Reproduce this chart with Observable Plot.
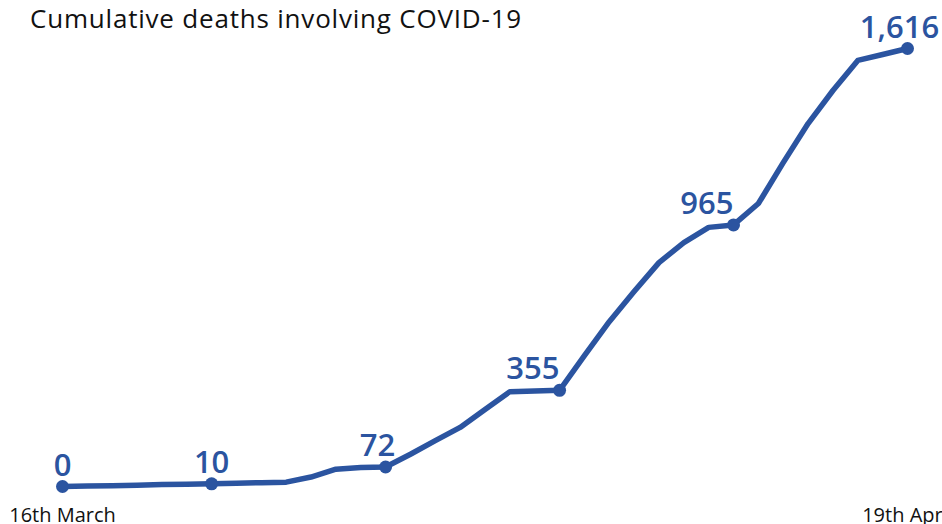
<!DOCTYPE html>
<html>
<head>
<meta charset="utf-8">
<script src="https://cdn.jsdelivr.net/npm/d3@7"></script>
<script src="https://cdn.jsdelivr.net/npm/@observablehq/plot@0.6"></script>
<style>
  html, body { margin: 0; padding: 0; background: #fff; }
  #wrap { position: relative; width: 942px; height: 524px; overflow: hidden; }
  #title { position: absolute; left: 30px; top: 0px; font-family: "Open Sans", sans-serif; font-size: 26px; letter-spacing: 0.8px; color: #111; white-space: nowrap; }
  svg { overflow: visible; }
</style>
</head>
<body>
<div id="wrap">
  <div id="chart"></div>
  <div id="title">Cumulative deaths involving COVID-19</div>
</div>
<script>
const startDate = "2020-03-16";
const deaths = [0, 2, 3, 5, 7, 8, 10, 12, 14, 16, 35, 64, 70, 72, 119, 169, 218, 284, 350, 352, 355,
  483, 608, 719, 826, 900, 956, 965, 1044, 1195, 1339, 1461, 1572, 1594, 1616];
const labelledDays = [0, 6, 13, 20, 27, 34];
const tickDays = [0, 34];
const tickLabels = ["16th March", "19th April"];

const start = new Date(startDate + "T00:00:00Z");
const data = deaths.map((v, i) => ({date: d3.utcDay.offset(start, i), value: v, i}));
const marked = data.filter(d => labelledDays.includes(d.i));
const tickDates = tickDays.map(i => data[i].date);
const blue = "#2b54a0";

const labelFont = {fontFamily: "Open Sans", fontSize: 31, fontWeight: 600, fill: blue, lineAnchor: "bottom", dy: -11};

const chart = Plot.plot({
  width: 942,
  height: 524,
  marginLeft: 62,
  marginRight: 35,
  marginTop: 48,
  marginBottom: 38,
  style: {fontFamily: "Open Sans", background: "#fff", overflow: "visible"},
  x: {type: "utc", domain: [data[0].date, data[data.length - 1].date]},
  y: {domain: [0, 1616], axis: null},
  marks: [
    Plot.axisX({ticks: tickDates, tickFormat: d => tickLabels[tickDates.findIndex(t => +t === +d)], tickSize: 0, tickPadding: 21, fontSize: 20, fill: "#111", label: null}),
    Plot.line(data, {x: "date", y: "value", stroke: blue, strokeWidth: 5.5, strokeLinejoin: "round", strokeLinecap: "round"}),
    Plot.dot(marked, {x: "date", y: "value", r: 6.5, fill: blue}),
    Plot.text(marked.filter(d => d.i <= 6), {x: "date", y: "value", text: d => d3.format(",")(d.value), ...labelFont}),
    Plot.text(marked.filter(d => d.i === 13 || d.i === 34), {x: "date", y: "value", text: d => d3.format(",")(d.value), ...labelFont, dx: -8}),
    Plot.text(marked.filter(d => d.i === 20 || d.i === 27), {x: "date", y: "value", text: d => d3.format(",")(d.value), ...labelFont, textAnchor: "end", dx: 0})
  ]
});
document.getElementById("chart").appendChild(chart);
</script>
</body>
</html>
